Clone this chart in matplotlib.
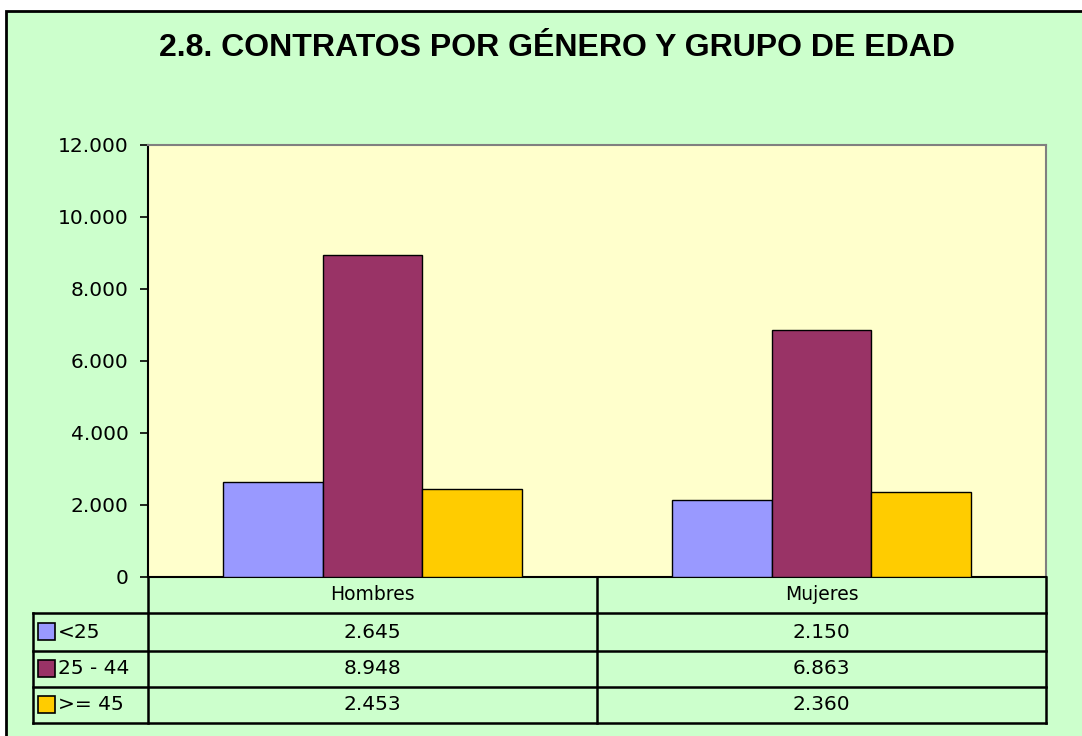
import numpy as np
import matplotlib.pyplot as plt
from matplotlib.patches import Rectangle
from matplotlib.lines import Line2D
from matplotlib.transforms import blended_transform_factory

categories = ['Hombres', 'Mujeres']
groups = ['<25', '25 - 44', '>= 45']
values_lt25 = [2645, 2150]
values_25_44 = [8948, 6863]
values_ge45 = [2453, 2360]
colors = ['#9999FF', '#993366', '#FFCC00']

W, H = 1082, 736


def fx(px):
    return px / W


def fy(py):
    return 1 - py / H


def fmt(v):
    return f"{v:,}".replace(",", ".")


fig = plt.figure(figsize=(W / 100, H / 100), dpi=100, facecolor='white')

# chart area background with border
fig.patches.append(Rectangle((fx(6), fy(760)), fx(1100), fy(11) - fy(760),
                             transform=fig.transFigure, facecolor='#CCFFCC',
                             edgecolor='black', linewidth=2, zorder=-5))

fig.text(fx(557), fy(48), '2.8. CONTRATOS POR GÉNERO Y GRUPO DE EDAD',
         ha='center', va='center', fontsize=23, fontweight='bold',
         family=['Liberation Sans Narrow', 'Liberation Sans', 'DejaVu Sans'])

ax = fig.add_axes([fx(148), fy(577), fx(1046) - fx(148), fy(145) - fy(577)])
ax.set_facecolor('#FFFFCC')

series = [values_lt25, values_25_44, values_ge45]
x = np.arange(len(categories))
w = 1 / 4.5
for i, vals in enumerate(series):
    ax.bar(x + (i - 1) * w, vals, width=w, color=colors[i], edgecolor='black',
           linewidth=1, zorder=3)

ax.set_xlim(-0.5, 1.5)
ax.set_ylim(0, 12000)
ax.set_yticks(np.arange(0, 12001, 2000))
ax.set_yticklabels([fmt(v) for v in range(0, 12001, 2000)],
                   fontsize=14.5, family='DejaVu Sans')
ax.tick_params(axis='y', length=6, width=1.2, direction='out', pad=8)
ax.set_xticks([])
ax.spines['left'].set_linewidth(1.5)
ax.spines['bottom'].set_linewidth(1.5)
ax.spines['top'].set_color('#808080')
ax.spines['right'].set_color('#808080')
ax.spines['top'].set_linewidth(1.5)
ax.spines['right'].set_linewidth(1.5)

# data table below the axes
row_lines = [577, 613, 651, 687, 723]
lw = 1.8
for py in row_lines[1:]:
    fig.add_artist(Line2D([fx(33), fx(1046)], [fy(py), fy(py)], color='black', lw=lw))
for px in [148, 597, 1046]:
    fig.add_artist(Line2D([fx(px), fx(px)], [fy(577), fy(723)], color='black', lw=lw))
fig.add_artist(Line2D([fx(33), fx(33)], [fy(613), fy(723)], color='black', lw=lw))

tr = blended_transform_factory(ax.transData, fig.transFigure)
for j, cat in enumerate(categories):
    fig.text(x[j], fy((577 + 613) / 2), cat, transform=tr, ha='center',
             va='center', fontsize=13.5)
for i, vals in enumerate(series):
    yc = fy((row_lines[i + 1] + row_lines[i + 2]) / 2)
    fig.patches.append(Rectangle((fx(38), yc - (fy(0) - fy(8))), fx(17), fy(0) - fy(17),
                                 transform=fig.transFigure, facecolor=colors[i],
                                 edgecolor='black', linewidth=1.2))
    fig.text(fx(58), yc, groups[i], ha='left', va='center', fontsize=14.5)
    for j, v in enumerate(vals):
        fig.text(x[j], yc, fmt(v), transform=tr, ha='center', va='center',
                 fontsize=14.5)

fig.savefig('out.png', dpi=100, facecolor=fig.get_facecolor())
